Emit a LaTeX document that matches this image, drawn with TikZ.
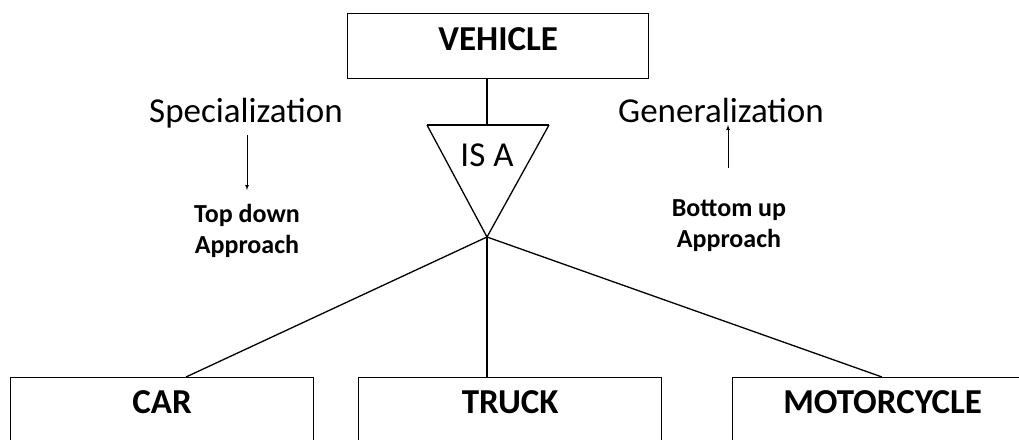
\documentclass[tikz,border=0pt]{standalone}
\usepackage{fontspec}
\setmainfont{Carlito}
\usetikzlibrary{shapes,arrows}
\tikzstyle{entity} = [rectangle, draw, line width=1.4pt, align=center, font=\bfseries\fontsize{35}{40}\selectfont]
\tikzstyle{edge} = [draw, line width=1.3pt]
\tikzstyle{arrow} = [draw, ->, >=latex, line width=0.7pt]
\tikzstyle{caption} = [font=\fontsize{35}{40}\selectfont, anchor=base]
\tikzstyle{approach} = [font=\bfseries\fontsize{26}{31}\selectfont, align=center, anchor=base]

\begin{document}
\begin{tikzpicture}[x=1pt, y=-1pt]
\useasboundingbox (0, 0) rectangle (1019, 439);

%% superclass
\node [entity, anchor=north west, minimum width=301pt, inner ysep=14pt, text height=23pt, text depth=14pt] at (347, 13) (vehicle) {VEHICLE};

%% is-a triangle
\coordinate (isaleft) at (427, 125);
\coordinate (isaright) at (549, 125);
\coordinate (isatop) at (487, 125);
\coordinate (isaapex) at (487, 237);
\path [edge] (isaleft) -- (isaapex) -- (isaright);
\path [draw, line width=2pt] (isaleft) -- (isaright);
\node [caption] at (487, 166) (isa) {IS A};
\path [edge] (vehicle.south -| isatop) -- (isatop);

%% subclasses
\node [entity, anchor=north west, minimum width=303pt, inner ysep=15pt, text height=21pt, text depth=80pt] at (10, 377) (car) {CAR};
\node [entity, anchor=north west, minimum width=303pt, inner ysep=15pt, text height=21pt, text depth=80pt] at (358, 377) (truck) {TRUCK};
\node [entity, anchor=north west, minimum width=300pt, inner ysep=15pt, text height=21pt, text depth=80pt] at (732, 377) (motorcycle) {MOTORCYCLE};

\coordinate (carjoin) at (186, 377);
\coordinate (truckjoin) at (487, 377);
\coordinate (motorcyclejoin) at (882, 377);
\path [edge] (isaapex) -- (carjoin);
\path [edge] (isaapex) -- (truckjoin);
\path [edge] (isaapex) -- (motorcyclejoin);

%% specialization
\node [caption] at (246, 122) (special) {Specialization};
\node [approach] at (247, 253) (topdown) {Top down\\Approach};
\coordinate (specialtail) at (247, 135);
\coordinate (specialhead) at (247, 190);
\path [arrow] (specialtail) -- (specialhead);

%% generalization
\node [caption] at (721, 122) (general) {Generalization};
\node [approach] at (729, 247) (bottomup) {Bottom up\\Approach};
\coordinate (generaltail) at (728, 168);
\coordinate (generalhead) at (728, 125);
\path [arrow] (generaltail) -- (generalhead);
\end{tikzpicture}
\end{document}
